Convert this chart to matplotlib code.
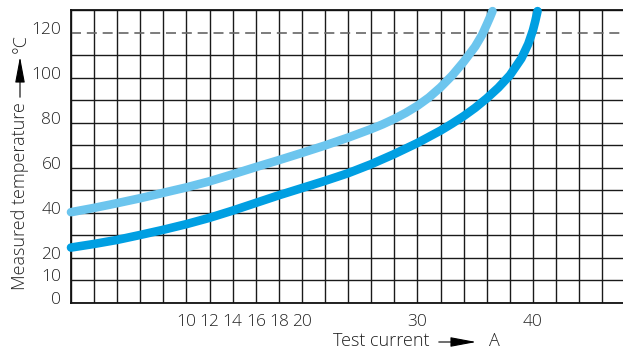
import numpy as np
import matplotlib
matplotlib.use("Agg")
import matplotlib.pyplot as plt
import matplotlib.transforms as mtransforms
from matplotlib.patches import FancyArrowPatch

# Curve readings (test current in A, measured temperature in degC)
current_light = [0, 2, 4, 6, 8, 10, 12, 14, 16, 18, 20, 22, 24, 26, 27, 28,
                 29, 30, 31, 32, 33, 34, 35, 35.6, 36, 36.3, 36.5]
temp_light = [40.3, 42.2, 44.3, 46.5, 48.9, 51.3, 54.0, 57.1, 60.3, 63.4, 66.6,
              69.9, 73.4, 77.2, 79.3, 81.7, 84.4, 87.5, 91.2, 95.7, 100.9,
              107.0, 113.8, 119.0, 123.5, 127.0, 129.5]

current_dark = [0, 2, 4, 6, 8, 10, 12, 14, 16, 18, 20, 22, 24, 26, 28, 30,
                32, 33, 34, 35, 36, 37, 38, 39, 39.6, 40, 40.2, 40.4]
temp_dark = [24.6, 26.2, 28.0, 30.2, 32.5, 35.0, 37.8, 41.0, 44.4, 47.8, 51.0,
             54.2, 57.6, 61.6, 66.1, 71.0, 76.5, 79.6, 82.9, 86.6, 90.8, 95.5,
             101.0, 108.5, 115.0, 121.0, 125.0, 129.5]

x_grid = list(range(0, 48, 2))
x_labels = {10: "10", 12: "12", 14: "14", 16: "16", 18: "18", 20: "20",
            30: "30", 40: "40"}
y_grid = list(range(0, 140, 10))
y_labels = {0: "0", 10: "10", 20: "20", 40: "40", 60: "60", 80: "80",
            100: "100", 120: "120"}

plt.rcParams["font.family"] = ["Open Sans", "DejaVu Sans"]
plt.rcParams["font.weight"] = "light"
text_color = "#222222"

fig = plt.figure(figsize=(6.23, 3.52), dpi=100)
ax = fig.add_axes([71 / 623, 1 - 303 / 352, (623 - 71) / 623, (303 - 10) / 352])
ax.set_xlim(0, 47.8)
ax.set_ylim(0, 130)

# grid
for x in x_grid:
    ax.axvline(x, color="#1a1a1a", lw=1.0, zorder=1)
for y in y_grid:
    if y == 120:
        ax.axhline(y, color="#666666", lw=1.2, ls=(0, (6, 3.5)), zorder=1)
    else:
        ax.axhline(y, color="#1a1a1a", lw=1.0, zorder=1)

for s in ["left", "bottom", "top"]:
    ax.spines[s].set_color("#111111")
    ax.spines[s].set_linewidth(1.3)
ax.spines["right"].set_visible(False)

# curves
ax.plot(current_light, temp_light, color="#6CC5EE", lw=6.2,
        solid_capstyle="round", solid_joinstyle="round", clip_on=False, zorder=3)
ax.plot(current_dark, temp_dark, color="#009FE2", lw=6.2,
        solid_capstyle="round", solid_joinstyle="round", clip_on=False, zorder=3)

# ticks
ax.set_xticks(list(x_labels.keys()))
ax.set_xticklabels(list(x_labels.values()))
ax.set_yticks(list(y_labels.keys()))
ax.set_yticklabels(list(y_labels.values()))
ax.tick_params(axis="both", length=0, labelsize=12.5, colors=text_color)
ax.tick_params(axis="x", pad=8)
ax.tick_params(axis="y", pad=7)
offset = mtransforms.ScaledTranslation(0, 0.05, fig.dpi_scale_trans)
for lab in ax.get_yticklabels():
    lab.set_transform(lab.get_transform() + offset)

# y axis label with arrow
fig.text(20 / 623, 1 - 290 / 352, "Measured temperature", rotation=90,
         ha="center", va="bottom", fontsize=13, color=text_color)
fig.text(21 / 623, 1 - 43.5 / 352, "°C", rotation=90,
         ha="center", va="center", fontsize=13, color=text_color)
fig.add_artist(FancyArrowPatch(
    (20 / 623, 1 - 100 / 352), (20 / 623, 1 - 54 / 352),
    transform=fig.transFigure, arrowstyle="-|>,head_length=1.6,head_width=0.3",
    mutation_scale=10, color="black", lw=0.8))

# x axis label with arrow
fig.text(333 / 623, 1 - 341 / 352, "Test current", ha="left", va="center",
         fontsize=13, color=text_color)
fig.text(494 / 623, 1 - 341 / 352, "A", ha="center", va="center",
         fontsize=13, color=text_color)
fig.add_artist(FancyArrowPatch(
    (436 / 623, 1 - 342 / 352), (479 / 623, 1 - 342 / 352),
    transform=fig.transFigure, arrowstyle="-|>,head_length=1.6,head_width=0.3",
    mutation_scale=10, color="black", lw=0.8))

fig.savefig("out.png", dpi=100)
